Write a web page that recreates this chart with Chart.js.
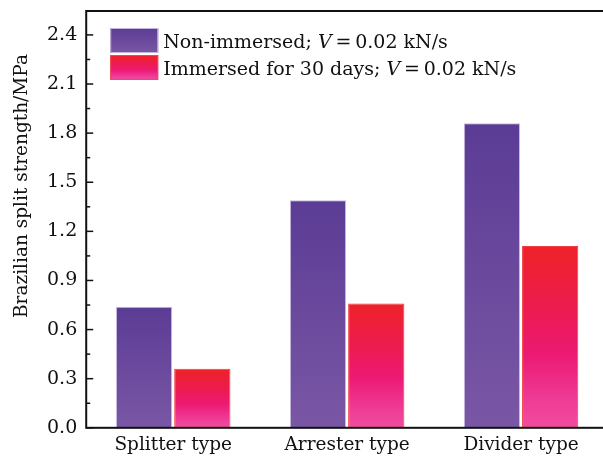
<!DOCTYPE html>
<html>
<head>
<meta charset="utf-8">
<script src="https://cdn.jsdelivr.net/npm/chart.js@4.4.0/dist/chart.umd.min.js"></script>
<style>
  html, body { margin: 0; padding: 0; background: #fff; overflow: hidden; }
  #wrap { width: 603px; height: 462px; overflow: hidden; }
</style>
</head>
<body>
<div id="wrap"><canvas id="chart" width="614" height="462"></canvas></div>
<script>
const categories = ['Splitter type', 'Arrester type', 'Divider type'];
const seriesLabels = ['Non-immersed; V\u2009=\u20090.02 kN/s', 'Immersed for 30 days; V\u2009=\u20090.02 kN/s'];
const nonImmersed = [0.74, 1.39, 1.86];
const immersed30 = [0.36, 0.76, 1.11];
const yTicks = [0, 0.3, 0.6, 0.9, 1.2, 1.5, 1.8, 2.1, 2.4];
const yTitle = 'Brazilian split strength/MPa';

const FONT = '"DejaVu Serif", "Liberation Serif", serif';

const gradStops = [
    [[0, '#5b3c95'], [1, '#7a57a5']],
    [[0, '#ee2227'], [0.35, '#ec1b50'], [0.6, '#ec1a74'], [0.85, '#ef3c96'], [1, '#f04c9e']]
];

function barGradient(ctx, top, bottom, stops) {
    const g = ctx.createLinearGradient(0, top, 0, bottom);
    stops.forEach(s => g.addColorStop(s[0], s[1]));
    return g;
}

function barFill(index) {
    return function (c) {
        const chart = c.chart;
        if (!chart.chartArea || c.dataIndex === undefined) return gradStops[index][0][1];
        const y = chart.scales.y;
        const top = y.getPixelForValue(c.dataset.data[c.dataIndex]);
        const bottom = y.getPixelForValue(0);
        return barGradient(chart.ctx, top, bottom, gradStops[index]);
    };
}

// frame, inward ticks and the y title
const framePlugin = {
    id: 'frame',
    afterDatasetsDraw(chart) {
        const {ctx, chartArea: a, scales: {y}} = chart;
        ctx.save();
        ctx.strokeStyle = '#111';
        ctx.lineWidth = 2;
        ctx.strokeRect(a.left, a.top, a.right - a.left, a.bottom - a.top);
        ctx.lineWidth = 1.5;
        const step = yTicks[1] - yTicks[0];
        for (let i = 0; i < yTicks.length; i++) {
            let py = y.getPixelForValue(yTicks[i]);
            ctx.beginPath();
            ctx.moveTo(a.left, py);
            ctx.lineTo(a.left + 7, py);
            ctx.stroke();
            const mv = yTicks[i] + step / 2;
            if (mv < y.max) {
                py = y.getPixelForValue(mv);
                ctx.beginPath();
                ctx.moveTo(a.left, py);
                ctx.lineTo(a.left + 4, py);
                ctx.stroke();
            }
        }
        // title sits a bit above the axis middle, as in the source figure
        ctx.translate(22, a.top + (a.bottom - a.top) * 0.42);
        ctx.rotate(-Math.PI / 2);
        ctx.fillStyle = '#111';
        ctx.font = '18.5px ' + FONT;
        ctx.textAlign = 'center';
        ctx.textBaseline = 'middle';
        ctx.fillText(yTitle, 0, 0);
        ctx.restore();
    }
};

// legend inside the plot, "V" set in italic
const legendPlugin = {
    id: 'innerLegend',
    afterDraw(chart) {
        const {ctx, chartArea: a} = chart;
        const bx = a.left + 24, by = a.top + 17, bw = 48, bh = 25, gap = 2;
        ctx.save();
        chart.data.datasets.forEach((ds, i) => {
            const top = by + i * (bh + gap);
            ctx.fillStyle = barGradient(ctx, top, top + bh, gradStops[i]);
            ctx.fillRect(bx, top, bw, bh);
            ctx.strokeStyle = i === 0 ? '#c4b5dd' : '#f2494f';
            ctx.lineWidth = 1;
            ctx.strokeRect(bx + 0.5, top + 0.5, bw - 1, bh - 1);
            let tx = bx + bw + 5;
            const ty = top + bh - 5;
            ctx.fillStyle = '#111';
            ctx.textBaseline = 'alphabetic';
            ds.label.split(/(\bV\b)/).forEach(part => {
                ctx.font = (part === 'V' ? 'italic ' : '') + '19px ' + FONT;
                ctx.fillText(part, tx, ty);
                tx += ctx.measureText(part).width;
            });
        });
        ctx.restore();
    }
};

new Chart(document.getElementById('chart'), {
    type: 'bar',
    data: {
        labels: categories,
        datasets: [
            {
                label: seriesLabels[0],
                data: nonImmersed,
                backgroundColor: barFill(0),
                borderColor: '#c9bbe0',
                borderWidth: 1
            },
            {
                label: seriesLabels[1],
                data: immersed30,
                backgroundColor: barFill(1),
                borderColor: '#f23a40',
                borderWidth: 1
            }
        ]
    },
    options: {
        responsive: false,
        animation: false,
        layout: {padding: {top: 11, right: 6, left: 38, bottom: 0}},
        datasets: {
            bar: {categoryPercentage: 0.67, barPercentage: 0.965}
        },
        plugins: {
            legend: {display: false},
            tooltip: {enabled: false}
        },
        scales: {
            x: {
                grid: {display: false, drawTicks: false},
                border: {display: false},
                ticks: {
                    color: '#111',
                    padding: 6,
                    font: {family: FONT, size: 18.5}
                }
            },
            y: {
                min: 0,
                max: 2.546,
                afterBuildTicks(scale) {
                    scale.ticks = yTicks.map(v => ({value: v}));
                },
                afterFit(scale) {
                    // top tick is well below the axis end, no label overhang needed
                    scale.paddingTop = 0;
                },
                grid: {display: false, drawTicks: false},
                border: {display: false},
                ticks: {
                    color: '#111',
                    padding: 9,
                    font: {family: FONT, size: 19},
                    callback: v => Number(v).toFixed(1)
                }
            }
        }
    },
    plugins: [framePlugin, legendPlugin]
});
</script>
</body>
</html>
